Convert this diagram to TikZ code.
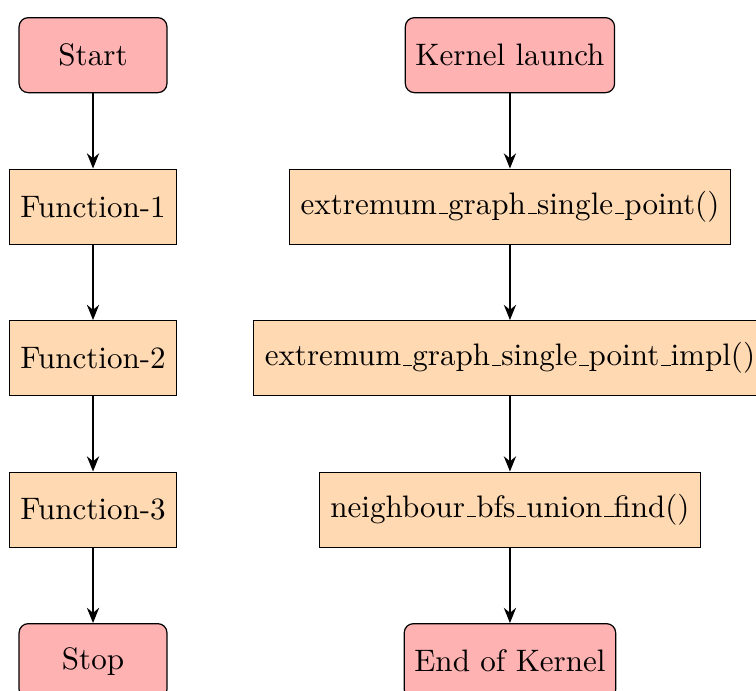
\documentclass[tikz,border=0pt]{standalone}
\usepackage{tikz}
\usetikzlibrary{arrows.meta, shapes, positioning}

\newcommand{\usc}{\leavevmode\kern.06em\vbox{\hrule width.3em}}

\tikzset{
  startstop/.style={rectangle, rounded corners=3pt, minimum width=48.8pt, minimum height=24.75pt, draw=black, fill=red!30},
  process/.style={rectangle, minimum height=24.75pt, inner xsep=3.6pt, draw=black, fill=orange!30},
  arrow/.style={thick, -{Stealth[length=5pt, width=4pt]}}
}

\begin{document}
\begin{tikzpicture}[node distance=50pt, on grid, font=\fontsize{10.25pt}{12pt}\selectfont]
	\useasboundingbox (-30.7pt,18.2pt) rectangle (218.8pt,-209.8pt);
	% host side
	\node[startstop] (start) {Start};
	\node[process, below = of start] (fun1) {Function-1};
	\node[process, below = of fun1] (fun2) {Function-2};
	\node[process, below = of fun2] (fun3) {Function-3};
	\node[startstop, below = of fun3] (stop) {Stop};
	% kernel side
	\node[startstop, right = 137.6pt of start] (launch) {Kernel launch};
	\node[process, below = of launch] (single) {extremum\usc graph\usc single\usc point()};
	\node[process, below = of single] (impl) {extremum\usc graph\usc single\usc point\usc impl()};
	\node[process, below = of impl] (bfs) {neighbour\usc bfs\usc union\usc find()};
	\node[startstop, below = of bfs] (endk) {End of Kernel};

	\draw[arrow] (start) -- (fun1);
	\draw[arrow] (fun1) -- (fun2);
	\draw[arrow] (fun2) -- (fun3);
	\draw[arrow] (fun3) -- (stop);

	\draw[arrow] (launch) -- (single);
	\draw[arrow] (single) -- (impl);
	\draw[arrow] (impl) -- (bfs);
	\draw[arrow] (bfs) -- (endk);
\end{tikzpicture}
\end{document}
